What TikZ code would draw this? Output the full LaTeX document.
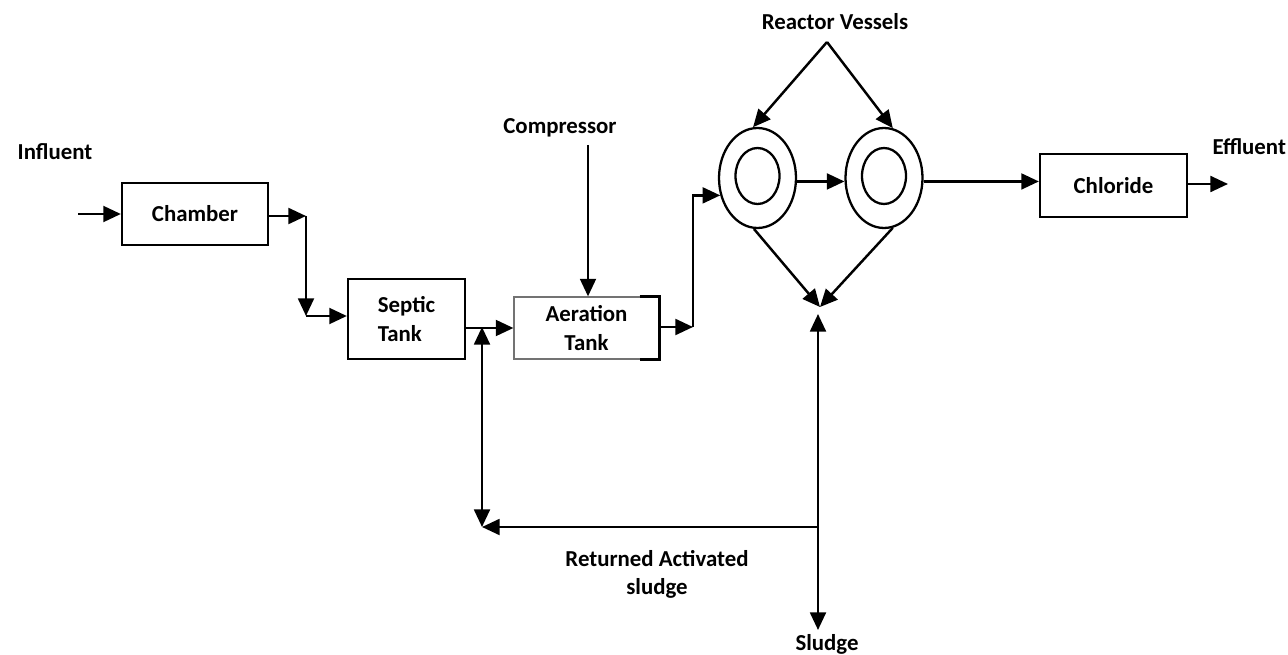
\documentclass[tikz,border=0pt]{standalone}
\usepackage{fontspec}
\setmainfont{Carlito}
\usepackage{tikz}
\usetikzlibrary{arrows.meta, positioning, shapes.geometric, calc}

\begin{document}
\begin{tikzpicture}[x=0.02cm, y=-0.02cm,
    font=\fontsize{13}{17}\selectfont\bfseries,
    unit/.style={draw, line width=1.3pt, inner sep=0pt},
    vessel/.style={ellipse, draw, line width=1.3pt, inner sep=0pt},
    flow/.style={-{Triangle[length=10pt,width=9pt]}, line width=1.4pt},
    twoway/.style={{Triangle[length=10pt,width=9pt]}-{Triangle[length=10pt,width=9pt]},
                   line width=1.4pt}]
    \useasboundingbox (0,0) rectangle (1288,655);

    % process units
    \node[unit, minimum width=2.92cm, minimum height=1.24cm] (chamber)
      at (195,214) {Chamber};
    \node[unit, minimum width=2.34cm, minimum height=1.6cm, align=left] (septic)
      at (406.5,319) {Septic\\Tank};
    \node[draw=black!55, line width=0.7pt, inner sep=0pt,
          minimum width=2.9cm, minimum height=1.24cm, align=center] (aeration)
      at (586.5,328) {Aeration\\Tank};
    \draw[line width=1.3pt] ($(aeration.north east)+(-20,0)$) -- (aeration.north east)
      -- (aeration.south east) -- ++(-20,0);
    \node[unit, minimum width=2.94cm, minimum height=1.26cm] (chloride)
      at (1113.5,185.5) {Chloride};

    % reactor vessels
    \foreach \v/\x in {v1/757.5, v2/884} {
      \node[vessel, minimum width=1.54cm, minimum height=2cm] (\v) at (\x,178) {};
      \node[vessel, minimum width=0.88cm, minimum height=1.12cm] (\v in)
        at (\x,176) {};
    }

    % labels
    \node (influent) at (55,152) {Influent};
    \node (compressor) at (560,128) {Compressor};
    \node (reactor) at (835,22) {Reactor Vessels};
    \node[anchor=east, inner sep=1pt] (effluent) at (1288,147) {Effluent};
    \node (sludge) at (827,644) {Sludge};
    \node[align=center, font=\fontsize{13}{16}\selectfont\bfseries] (ras)
      at (657,574) {Returned Activated\\sludge};

    % junction points
    \coordinate (feed) at (78,214);
    \coordinate (c1) at (306,216);
    \coordinate (c2) at (306,316);
    \coordinate (air) at (588,145);
    \coordinate (a1) at (693,327);
    \coordinate (apex) at (827,42);
    \coordinate (jn) at (820,307);
    \coordinate (up) at (818,314);
    \coordinate (split) at (818,527);
    \coordinate (drain) at (818,630);
    \coordinate (rl) at (482,527);
    \coordinate (rt) at (482,327);
    \coordinate (out) at (1228,184);

    % main flow
    \draw[flow] (feed) -- (chamber.west);
    \draw[flow] (chamber.east |- c1) -- (c1);
    \draw[flow] (c1) -- (c2);
    \draw[flow] (c2) -- (c2 -| septic.west);
    \draw[flow] (septic.east |- aeration.west) -- (aeration.west);
    \draw[flow] (air) -- (air |- aeration.north);
    \draw[flow] (aeration.east |- a1) -- (a1);
    \draw[flow] (a1) |- (v1.205);
    \draw[flow] (v1.-5) -- (v2.185);
    \draw[flow] (v2.-5) -- (v2.-5 -| chloride.west);
    \draw[flow] (chloride.east |- out) -- (out);

    % vessels
    \draw[flow] (apex) -- (v1.95);
    \draw[flow] (apex) -- (v2.80);
    \draw[flow] (v1.266) -- (jn);
    \draw[flow] (v2.280) -- (jn);

    % sludge lines
    \draw[flow] (split) -- (up);
    \draw[flow] (split) -- (drain);
    \draw[flow] (split) -- (rl);
    \draw[twoway] (rl) -- (rt);
\end{tikzpicture}
\end{document}
